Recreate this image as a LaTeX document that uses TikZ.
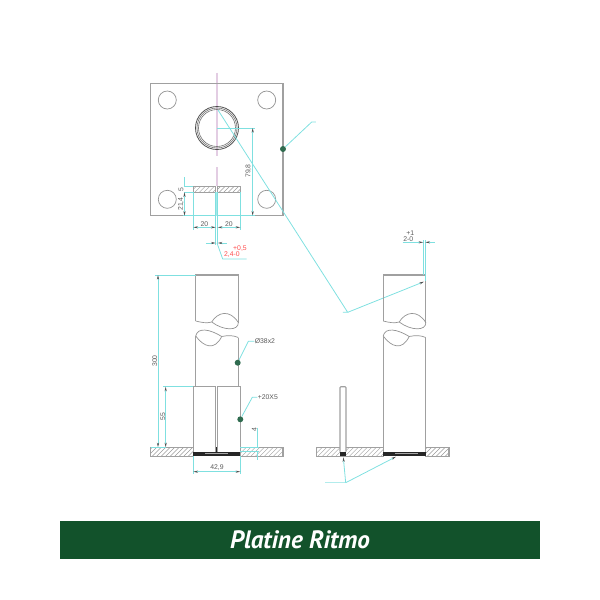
\documentclass[tikz,border=0pt]{standalone}
\usepackage{fontspec}
\setmainfont{Liberation Sans}
\newfontfamily\bannerfont{PT Sans}
\usetikzlibrary{arrows.meta}
\definecolor{dimcyan}{HTML}{7FE0E0}
\definecolor{bannergreen}{HTML}{12522B}
\definecolor{dotgreen}{HTML}{2F6B4F}
\definecolor{axispink}{HTML}{E3CDE3}
\definecolor{edgegrey}{HTML}{A0A0A0}
% hatched rectangle: x1,y1,x2,y2
\newcommand{\hatchbox}[4]{
  \begin{scope}
    \clip (#1,#2) rectangle (#3,#4);
    \pgfmathsetmacro{\hstart}{#1-12}
    \pgfmathsetmacro{\hnext}{#1-7.5}
    \foreach \hx in {\hstart,\hnext,...,#3}
      \draw[hatchline] (\hx,#4) -- ++(12,-12);
  \end{scope}
  \draw[outline] (#1,#2) rectangle (#3,#4);
}
% tube with break lines, x = left edge
\newcommand{\tubeview}[2]{
  \begin{scope}[shift={(#1,0)}]
    \draw[outline] (0,321) -- (0,275) -- (42.6,275) -- (42.6,322.5);
    \draw[thinline] (0,321) .. controls (6,322.5) and (11,323.5) .. (16,322)
      .. controls (22,312) and (34,309) .. (42.6,322.5)
      .. controls (43,331) and (28,331) .. (16,322);
    \draw[thinline] (0,336) .. controls (2,327) and (14,329) .. (26,336.5)
      .. controls (33,335) and (38,335.5) .. (42.6,337.5);
    \draw[thinline] (0,336) .. controls (8,347) and (19,351) .. (26,336.5);
    \draw[outline] (0,336) -- (0,#2) (42.6,337.5) -- (42.6,#2);
  \end{scope}
}
\begin{document}
\begin{tikzpicture}[x=0.02cm, y=-0.02cm,
    outline/.style={draw=edgegrey, line width=0.65pt},
    thinline/.style={draw=gray!85, line width=0.4pt},
    hatchline/.style={draw=gray!80, line width=0.25pt},
    dimline/.style={draw=dimcyan, line width=0.45pt},
    tiptip/.style={-{Stealth[length=2.6pt,width=1.2pt,color=black!70]}},
    dimarrow/.style={dimline, {Stealth[length=2.6pt,width=1.2pt,color=black!70]}-{Stealth[length=2.6pt,width=1.2pt,color=black!70]}},
    axisline/.style={draw=axispink, line width=0.8pt},
    dot/.style={circle, fill=dotgreen, inner sep=0pt, minimum size=3.4pt},
    weldfill/.style={fill=black!85},
    dimlabel/.style={font=\fontsize{3.9}{4}\selectfont, text=black!65, inner sep=0pt},
    redlabel/.style={font=\fontsize{3.9}{4}\selectfont, text=red!70, inner sep=0pt}]

  \useasboundingbox (0,0) rectangle (600,600);

  % plan view
  \draw[axisline] (217,72.7) -- (217,156) (217,167) -- (217,186);
  \draw[outline] (150.5,83.5) rectangle (283,215.7);
  \foreach \hx in {167.3,266.7} \foreach \hy in {100,199.3}
    \draw[thinline] (\hx,\hy) circle (9);
  \draw[black!70, line width=0.45pt] (217,128) circle (21.5);
  \draw[black!55, line width=0.35pt] (217,128) circle (20);
  \draw[black!55, line width=0.35pt] (217,128) circle (18.5);
  \hatchbox{193.3}{186.7}{215.7}{192.3}
  \hatchbox{217.7}{186.7}{240.3}{192.3}

  \node[dot] (platedot) at (283,149) {};
  \coordinate (platebend) at (311.7,122);
  \coordinate (plateend) at (316,122);
  \draw[dimline] (platedot) -- (platebend) -- (plateend);

  \coordinate (weldtop) at (218,110);
  \coordinate (weldbend) at (347.7,312.3);
  \coordinate (weldend) at (343,312.3);
  \coordinate (gaptip) at (424,281.7);
  \draw[dimline] (weldend) -- (weldbend) -- (weldtop);
  \draw[dimline, tiptip] (weldbend) -- (gaptip);

  \draw[dimline] (217,128) -- (255,128);
  \draw[dimcyan, line width=0.7pt] (183,215.7) -- (255,215.7);
  \draw[dimarrow] (252.7,128) -- (252.7,215.7);
  \node[dimlabel, rotate=90] (lblheight) at (248.5,171) {79,8};

  \draw[dimline] (184,186.7) -- (193.3,186.7) (184,192.3) -- (193.3,192.3);
  \draw[dimline] (184.5,177) -- (184.5,186.7);
  \draw[dimarrow] (184.5,192.3) -- (184.5,215.7);
  \node[dimlabel, rotate=90] (lblfive) at (181,189.5) {5};
  \node[dimlabel, rotate=90] (lbloffset) at (181,204) {21,4};

  \draw[dimline] (193.3,192.3) -- (193.3,230) (240.3,192.3) -- (240.3,230);
  \fill[dimcyan!70] (215.7,192.3) rectangle (217.7,216);
  \draw[dimline] (215.7,192.3) -- (215.7,245) (217.7,192.3) -- (217.7,245);
  \draw[dimarrow] (193.3,227.3) -- (215.7,227.3);
  \draw[dimarrow] (217.7,227.3) -- (240.3,227.3);
  \node[dimlabel] (lblleft) at (204.5,224) {20};
  \node[dimlabel] (lblright) at (229,224) {20};

  \draw[dimline, tiptip] (206,243) -- (215.7,243);
  \draw[dimline, tiptip] (227,243) -- (217.7,243);
  \coordinate (slotbend) at (222.7,259);
  \draw[dimline] (217,243) -- (slotbend) -- (246.7,259);
  \node[redlabel] (lbltolup) at (240,248.5) {+0,5};
  \node[redlabel] (lbltol) at (232,255) {2,4-0};

  % front view
  \tubeview{195.7}{387}
  \hatchbox{150.7}{447.3}{193.3}{456.3}
  \hatchbox{240.3}{447.3}{283}{456.3}
  \draw[outline] (193.3,456) -- (193.3,386.7) -- (215.7,386.7) -- (215.7,451.5);
  \draw[outline] (217.7,451.5) -- (217.7,386.7) -- (240.3,386.7) -- (240.3,456);
  \fill[weldfill] (193.3,451.5) rectangle (240.3,456);
  \fill[weldfill] (215.9,447) rectangle (217.5,451.5);
  \draw[gray!70, line width=0.3pt] (205,453.6) -- (228,453.6);

  \draw[dimline] (155,275) -- (195.7,275);
  \draw[dimarrow] (158,275) -- (158,447.3);
  \node[dimlabel, rotate=90] (lbltube) at (154.7,361) {300};
  \draw[dimline] (163,386.7) -- (193.3,386.7);
  \draw[dimarrow] (165.7,386.7) -- (165.7,447.3);
  \node[dimlabel, rotate=90] (lblbar) at (162.7,416.7) {55};
  \draw[dimline] (150.7,447.3) -- (166,447.3);

  \node[dot] (tubedot) at (237.7,362.7) {};
  \node[dimlabel, anchor=west] (lbltubesize) at (254.5,341.3) {Ø38x2};
  \draw[dimline] (tubedot) -- (248.3,341.3) -- (lbltubesize.west);
  \node[dot] (bardot) at (240.3,419.3) {};
  \node[dimlabel, anchor=west] (lblbarsize) at (257.5,397.3) {+20X5};
  \draw[dimline] (bardot) -- (252.3,397.3) -- (lblbarsize.west);

  \draw[dimline] (240.3,447.3) -- (259,447.3) (240.3,451.3) -- (259,451.3);
  \draw[dimline] (257.7,427.7) -- (257.7,447.3) (257.7,451.3) -- (257.7,460);
  \node[dimlabel, rotate=90] (lblweld) at (254.3,430) {4};
  \draw[dimline] (193.3,456) -- (193.3,474) (240.3,456) -- (240.3,474);
  \draw[dimarrow] (193.3,471.7) -- (240.3,471.7);
  \node[dimlabel] (lblwidth) at (217,468) {42,9};

  % side view
  \tubeview{383.2}{451.5}
  \hatchbox{316.3}{447.3}{383.3}{456.3}
  \hatchbox{425.7}{447.3}{449}{456.3}
  \draw[outline, fill=white, rounded corners=0.5pt] (340,451.5) -- (340,386.7) -- (346,386.7) -- (346,451.5);
  \fill[weldfill] (340,451.5) rectangle (346,456.3);
  \fill[weldfill] (383.2,451.5) rectangle (425.8,456);
  \draw[gray!70, line width=0.3pt] (395,453.6) -- (418,453.6);

  \draw[dimline] (423.3,240) -- (423.3,275) (425.3,240) -- (425.3,281);
  \draw[dimline, tiptip] (402.7,242.3) -- (423.3,242.3);
  \draw[dimline, tiptip] (435,242.3) -- (425.3,242.3);
  \node[dimlabel] (lblgapup) at (410.3,232.7) {+1};
  \node[dimlabel] (lblgap) at (408.3,239) {2-0};

  \coordinate (sidebend) at (345.7,482.7);
  \draw[dimcyan!60, line width=0.8pt] (325,482.7) -- (sidebend);
  \draw[dimline, tiptip] (sidebend) -- (343.3,457.3);
  \draw[dimline, tiptip] (sidebend) -- (396,456.7);

  % banner
  \node[fill=bannergreen, minimum width=9.6cm, minimum height=0.76cm, inner sep=0pt,
        text=white, font=\bannerfont\bfseries\itshape\fontsize{14.3}{16}\selectfont] (banner) at (300,540) {Platine Ritmo};
\end{tikzpicture}
\end{document}
